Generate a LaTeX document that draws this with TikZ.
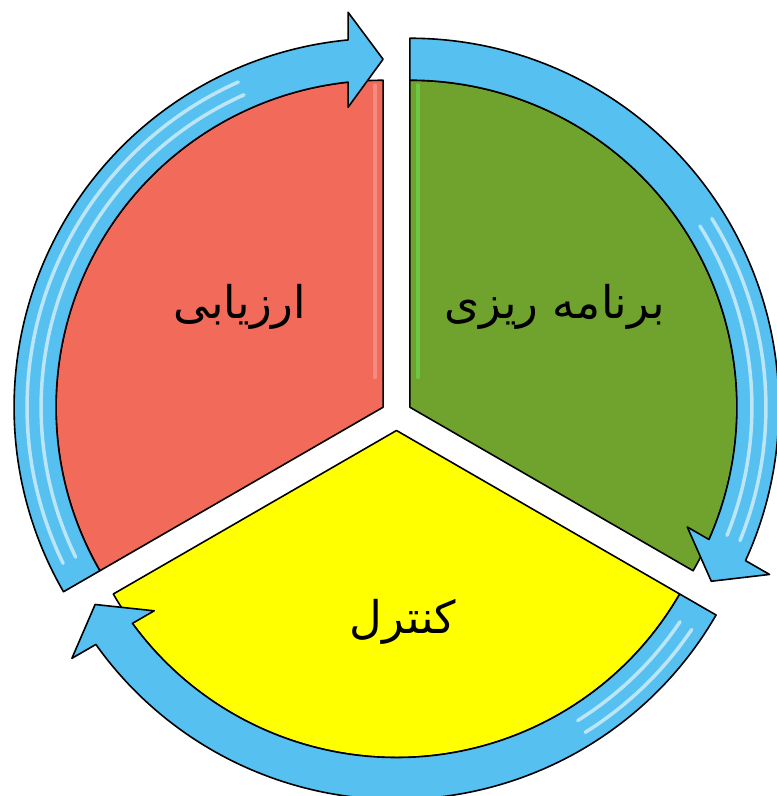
\documentclass[tikz,border=0pt]{standalone}
\usepackage{fontspec}
\usepackage{xcolor}
\usepackage{tikz}
\newfontfamily\arabicfont[Script=Arabic]{DejaVu Sans}
\TeXXeTstate=1
\definecolor{planGreen}{RGB}{112,163,46}
\definecolor{evalRed}{RGB}{242,106,90}
\definecolor{ctrlYellow}{RGB}{255,255,0}
\definecolor{ringBlue}{RGB}{86,192,240}

\begin{document}
\begin{tikzpicture}[
  x=1pt,y=1pt,
  sector/.style={draw=black,line width=1.6pt,line join=round},
  ring/.style={draw=black,line width=1.6pt,fill=ringBlue,line join=round},
  gloss/.style={white,opacity=0.6,line width=3.5pt,line cap=round},
  phase/.style={font=\arabicfont\fontsize{45}{52}\selectfont,inner sep=0pt}
]
\useasboundingbox (-396.5,-381) rectangle (380.5,415);

% planning (green, top right)
\begin{scope}[shift={(30:15.5)},rotate=-30]
  \draw[sector,fill=planGreen] (0,0) -- (0:327)
    arc[start angle=0,end angle=120,radius=327] -- cycle;
  \draw[gloss,opacity=0.4,line width=4pt,green!60!white]
    ([shift={(30:8)}]120:30) -- ([shift={(30:8)}]120:322);
  \draw[ring] (120:369) arc[start angle=120,end angle=5.44,radius=369]
    -- (395,35) -- (348,0) -- (300,35) -- (325.1,35)
    arc[start angle=6.14,end angle=120,radius=327] -- cycle;
  \draw[gloss] (8:342) arc[start angle=8,end angle=62,radius=342];
  \draw[gloss] (8:356) arc[start angle=8,end angle=62,radius=356];
\end{scope}

% evaluation (red, top left)
\begin{scope}[shift={(150:15.5)},rotate=90]
  \draw[sector,fill=evalRed] (0,0) -- (0:327)
    arc[start angle=0,end angle=120,radius=327] -- cycle;
  \draw[gloss,opacity=0.45,line width=4pt,red!30!white]
    ([shift={(90:8)}]0:30) -- ([shift={(90:8)}]0:322);
  \draw[ring] (120:369) arc[start angle=120,end angle=5.44,radius=369]
    -- (395,35) -- (348,0) -- (300,35) -- (325.1,35)
    arc[start angle=6.14,end angle=120,radius=327] -- cycle;
  \draw[gloss] (24:342) arc[start angle=24,end angle=116,radius=342];
  \draw[gloss] (24:356) arc[start angle=24,end angle=116,radius=356];
\end{scope}

% control (yellow, bottom)
\begin{scope}[shift={(270:15.5)},rotate=210]
  \draw[sector,fill=ctrlYellow] (0,0) -- (0:327)
    arc[start angle=0,end angle=120,radius=327] -- cycle;
  \draw[ring] (120:369) arc[start angle=120,end angle=5.44,radius=369]
    -- (395,35) -- (348,0) -- (300,35) -- (325.1,35)
    arc[start angle=6.14,end angle=120,radius=327] -- cycle;
  \draw[gloss] (92:342) arc[start angle=92,end angle=116,radius=342];
  \draw[gloss] (92:356) arc[start angle=92,end angle=116,radius=356];
\end{scope}

\node[phase] (planning) at (158,108) {\beginR برنامه ریزی\endR};
\node[phase] (evaluation) at (-156.5,108) {\beginR ارزیابی\endR};
\node[phase] (control) at (6.5,-207) {\beginR کنترل\endR};
\end{tikzpicture}
\end{document}
